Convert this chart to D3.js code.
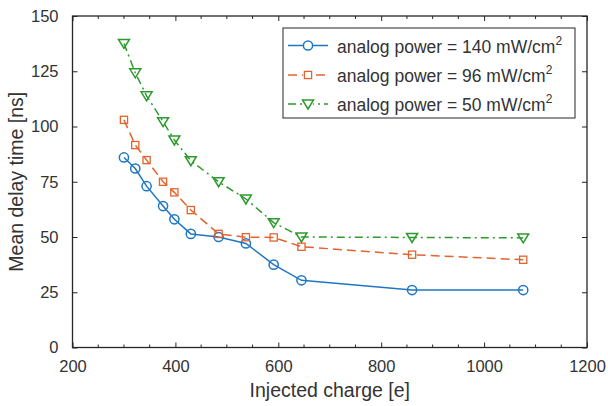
<!DOCTYPE html>
<html>
<head>
<meta charset="utf-8">
<script src="https://cdn.jsdelivr.net/npm/d3@7"></script>
<style>
  body { margin: 0; background: #fff; }
  text { font-family: "Liberation Sans", Arial, sans-serif; fill: #333; }
</style>
</head>
<body>
<div id="chart"></div>
<script>
// data
var charge = [300, 322, 344, 376, 398, 430, 484, 537, 591, 645, 860, 1076];
var delay140 = [86, 81, 73, 64, 58, 51.4, 50, 47.1, 37.5, 30.4, 26, 26];
var delay96 = [103, 91.6, 84.8, 75, 70.2, 62.2, 51.4, 49.9, 49.8, 45.6, 42, 39.7];
var delay50 = [137.6, 124.3, 113.9, 102.2, 93.9, 84.5, 75, 67.2, 56.5, 50, 49.8, 49.6];
var seriesNames = ["analog power = 140 mW/cm", "analog power = 96 mW/cm", "analog power = 50 mW/cm"];
var xTicks = [200, 400, 600, 800, 1000, 1200];
var yTicks = [0, 25, 50, 75, 100, 125, 150];

var svgWidth = 608, svgHeight = 406;
var margin = {top: 16, right: 21, bottom: 58.5, left: 72.5};
var width = svgWidth - margin.left - margin.right;
var height = svgHeight - margin.top - margin.bottom;

var svg = d3.select("#chart").append("svg")
  .attr("width", svgWidth)
  .attr("height", svgHeight);

var g = svg.append("g")
  .attr("transform", `translate(${margin.left}, ${margin.top})`);

var x = d3.scaleLinear().domain([200, 1200]).range([0, width]);
var y = d3.scaleLinear().domain([0, 150]).range([height, 0]);

var axisColor = "#262626";

// box
g.append("rect")
  .attr("width", width).attr("height", height)
  .attr("fill", "none").attr("stroke", axisColor).attr("stroke-width", 1.3);

// minor x ticks (bottom and top)
var minorX = d3.range(250, 1200, 50).filter(v => v % 200 !== 0);
g.selectAll(".minx").data(minorX).enter().append("line")
  .attr("x1", d => x(d)).attr("x2", d => x(d))
  .attr("y1", height).attr("y2", height - 3)
  .attr("stroke", axisColor);
g.selectAll(".minxt").data(minorX).enter().append("line")
  .attr("x1", d => x(d)).attr("x2", d => x(d))
  .attr("y1", 0).attr("y2", 3)
  .attr("stroke", axisColor);

// major ticks, all four sides
var bottomAxis = d3.axisBottom(x).tickValues(xTicks).tickFormat(d3.format("d"))
  .tickSizeInner(-5).tickSizeOuter(0).tickPadding(13);
var xAxis = g.append("g").attr("transform", `translate(0, ${height})`).call(bottomAxis);
var topAxis = d3.axisTop(x).tickValues(xTicks).tickSizeInner(-5).tickSizeOuter(0).tickFormat("");
var xAxisTop = g.append("g").call(topAxis);

var leftAxis = d3.axisLeft(y).tickValues(yTicks).tickSizeInner(-5).tickSizeOuter(0).tickPadding(14);
var yAxis = g.append("g").call(leftAxis);
var rightAxis = d3.axisRight(y).tickValues(yTicks).tickSizeInner(-5).tickSizeOuter(0).tickFormat("");
var yAxisRight = g.append("g").attr("transform", `translate(${width}, 0)`).call(rightAxis);

[xAxis, xAxisTop, yAxis, yAxisRight].forEach(function(a) {
  a.select(".domain").remove();
  a.selectAll("line").attr("stroke", axisColor);
  a.selectAll("text").style("font-size", "16.5px").attr("fill", "#333");
});

// axis labels
g.append("text")
  .attr("x", width / 2).attr("y", height + 49)
  .attr("text-anchor", "middle")
  .style("font-size", "19.5px")
  .text("Injected charge [e]");

g.append("text")
  .attr("transform", `translate(${-50}, ${height / 2}) rotate(-90)`)
  .attr("text-anchor", "middle")
  .style("font-size", "19.5px")
  .text("Mean delay time [ns]");

var series = [
  {name: seriesNames[0], values: delay140, color: "#1f77c4", dash: null, marker: "circle"},
  {name: seriesNames[1], values: delay96, color: "#e2642f", dash: "9,5", marker: "square"},
  {name: seriesNames[2], values: delay50, color: "#2e9a2e", dash: "8,4,2,4", marker: "triangle"}
];

var line = d3.line().x(d => x(d[0])).y(d => y(d[1]));

function drawMarker(sel, type, color) {
  if (type === "circle") {
    sel.append("circle").attr("r", 4.6)
      .attr("fill", "none").attr("stroke", color).attr("stroke-width", 1.5);
  } else if (type === "square") {
    sel.append("rect").attr("x", -3.6).attr("y", -3.6).attr("width", 7.2).attr("height", 7.2)
      .attr("fill", "none").attr("stroke", color).attr("stroke-width", 1.3);
  } else {
    sel.append("path").attr("d", "M-5.5,-4L5.5,-4L0,5Z")
      .attr("fill", "none").attr("stroke", color).attr("stroke-width", 1.5);
  }
}

series.forEach(function(s) {
  var pts = charge.map((c, i) => [c, s.values[i]]);
  g.append("path")
    .datum(pts)
    .attr("d", line)
    .attr("fill", "none")
    .attr("stroke", s.color)
    .attr("stroke-width", 1.5)
    .attr("stroke-dasharray", s.dash);
  g.selectAll(null).data(pts).enter().append("g")
    .attr("transform", d => `translate(${x(d[0])}, ${y(d[1])})`)
    .each(function() { drawMarker(d3.select(this), s.marker, s.color); });
});

// legend
var legend = svg.append("g").attr("transform", "translate(283, 28)");
legend.append("rect")
  .attr("width", 292).attr("height", 90)
  .attr("fill", "#fff").attr("stroke", axisColor).attr("stroke-width", 1);

var rowY = [17.5, 47, 76];
series.forEach(function(s, i) {
  var row = legend.append("g").attr("transform", `translate(0, ${rowY[i]})`);
  row.append("line")
    .attr("x1", 5).attr("x2", 45).attr("y1", 0).attr("y2", 0)
    .attr("stroke", s.color).attr("stroke-width", 1.5)
    .attr("stroke-dasharray", s.dash);
  var m = row.append("g").attr("transform", "translate(25, 0)");
  m.append("rect").attr("x", -5).attr("y", -5).attr("width", 10).attr("height", 10).attr("fill", "#fff");
  drawMarker(m, s.marker, s.color);
  var t = row.append("text").attr("x", 54).attr("y", 7).style("font-size", "17.5px");
  t.append("tspan").text(s.name);
  t.append("tspan").attr("dy", -8).style("font-size", "12px").text("2");
});
</script>
</body>
</html>
